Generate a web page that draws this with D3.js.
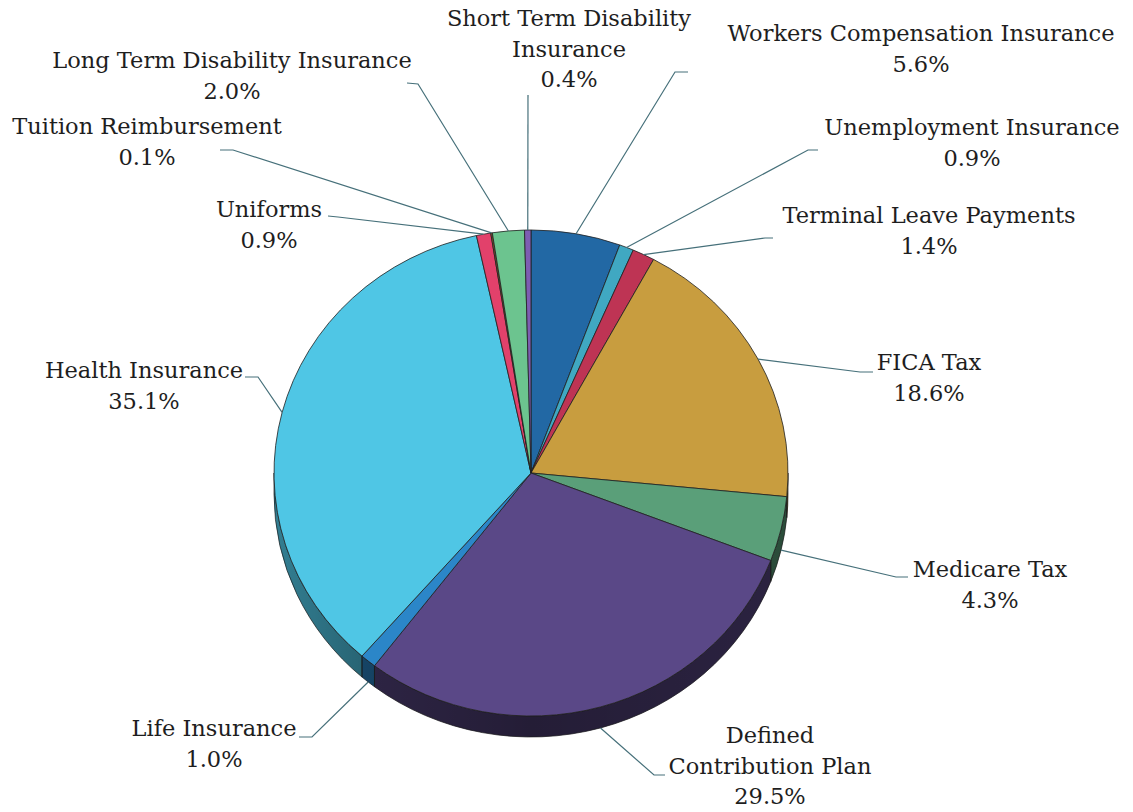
<!DOCTYPE html>
<html>
<head>
<meta charset="utf-8">
<script src="https://cdn.jsdelivr.net/npm/d3@7"></script>
<style>
  html, body { margin: 0; padding: 0; background: #ffffff; }
  svg { display: block; }
  .lbl { font-family: "DejaVu Serif", serif; font-size: 22.5px; fill: #1e1e1e; }
</style>
</head>
<body>
<svg id="chart" width="1133" height="812"></svg>
<script>
// Employer benefit cost shares (percent of total)
const categories = [
  "Workers Compensation Insurance",
  "Unemployment Insurance",
  "Terminal Leave Payments",
  "FICA Tax",
  "Medicare Tax",
  "Defined\nContribution Plan",
  "Life Insurance",
  "Health Insurance",
  "Uniforms",
  "Tuition Reimbursement",
  "Long Term Disability Insurance",
  "Short Term Disability\nInsurance"
];
const shares = [5.6, 0.9, 1.4, 18.6, 4.3, 29.5, 1.0, 35.1, 0.9, 0.1, 2.0, 0.4];
const sliceColors = [
  "#2268a4", "#40a8c2", "#be3454", "#c89d3f", "#5a9f79", "#5a4887",
  "#2b86c8", "#4fc6e5", "#e2416b", "#8a5a2a", "#6cc48f", "#7d5db2"
];

// Label placement: centre of the text block, first line centre, and the
// bend / end points of each leader line.
const labelLayout = [
  { x: 921, y: 33,  bend: [675, 72],  end: [688, 72] },
  { x: 972, y: 127, bend: [808, 150], end: [818, 150] },
  { x: 929, y: 215, bend: [765, 238], end: [773, 238] },
  { x: 929, y: 362, bend: [860, 372], end: [873, 372] },
  { x: 990, y: 569, bend: [896, 577], end: [908, 577] },
  { x: 770, y: 735, bend: [654, 775], end: [665, 775] },
  { x: 214, y: 728, bend: [312, 737], end: [299, 737] },
  { x: 144, y: 370, bend: [258, 377], end: [245, 377] },
  { x: 269, y: 209, bend: [338, 217], end: [328, 216] },
  { x: 147, y: 126, bend: [233, 150], end: [220, 150] },
  { x: 232, y: 60,  bend: [418, 84],  end: [407, 83] },
  { x: 569, y: 18,  bend: [528, 95],  end: [528, 95] }
];

const lineGap = 30.5;
const cx = 531, cy = 473, rx = 257, ry = 243, depth = 21;

const svg = d3.select("#chart");
const defs = svg.append("defs");

// Shading across the visible rim of the pie
const shade = defs.append("linearGradient")
  .attr("id", "rimShade")
  .attr("gradientUnits", "userSpaceOnUse")
  .attr("x1", cx - rx).attr("x2", cx + rx).attr("y1", 0).attr("y2", 0);
[[0, 0.36], [0.18, 0.5], [0.5, 0.6], [1, 0.52]].forEach(([o, a]) =>
  shade.append("stop").attr("offset", o).attr("stop-color", "#000").attr("stop-opacity", a));

const pie = d3.pie().sort(null).value(d => d);
const arcs = pie(shares);

// point on the top ellipse for an angle measured clockwise from 12 o'clock
const pt = (a, dy = 0) => [cx + rx * Math.sin(a), cy - ry * Math.cos(a) + dy];

// Rim (side wall) of each slice on the front half
function rimPath(a0, a1) {
  const lo = Math.max(a0, Math.PI / 2), hi = Math.min(a1, 3 * Math.PI / 2);
  if (hi <= lo) return null;
  const p0 = pt(lo), p1 = pt(hi), q1 = pt(hi, depth), q0 = pt(lo, depth);
  const large = hi - lo > Math.PI ? 1 : 0;
  return `M${p0}A${rx},${ry} 0 ${large} 1 ${p1}L${q1}A${rx},${ry} 0 ${large} 0 ${q0}Z`;
}

const rim = svg.append("g");
arcs.forEach((d, i) => {
  const p = rimPath(d.startAngle, d.endAngle);
  if (!p) return;
  rim.append("path").attr("d", p).attr("fill", sliceColors[i]);
});
const band = rimPath(Math.PI / 2, 3 * Math.PI / 2);
rim.append("path").attr("d", band).attr("fill", "url(#rimShade)");
arcs.forEach((d, i) => {
  const p = rimPath(d.startAngle, d.endAngle);
  if (!p) return;
  rim.append("path").attr("d", p).attr("fill", "none")
    .attr("stroke", "#1a1a1a").attr("stroke-width", 0.7);
});

// Top face: circular arcs squashed into the ellipse
const arc = d3.arc().innerRadius(0).outerRadius(rx);
svg.append("g")
  .attr("transform", `translate(${cx},${cy}) scale(1,${ry / rx})`)
  .selectAll("path")
  .data(arcs)
  .join("path")
  .attr("d", arc)
  .attr("fill", (d, i) => sliceColors[i])
  .attr("stroke", "#1f1f1f")
  .attr("stroke-width", 0.8)
  .attr("vector-effect", "non-scaling-stroke")
  .attr("stroke-linejoin", "round");

// Leader lines
const leaders = svg.append("g")
  .attr("fill", "none")
  .attr("stroke", "#46707a")
  .attr("stroke-width", 1.2);
arcs.forEach((d, i) => {
  const mid = (d.startAngle + d.endAngle) / 2;
  const front = Math.cos(mid) < 0;
  const s = pt(mid, front ? depth : 0);
  const L = labelLayout[i];
  leaders.append("path").attr("d", d3.line()([s, L.bend, L.end]));
});

// Labels: category name lines followed by the share
const fmt = d3.format(".1f");
const labels = svg.append("g");
categories.forEach((name, i) => {
  const L = labelLayout[i];
  const lines = name.split("\n").concat([fmt(shares[i]) + "%"]);
  const t = labels.append("text").attr("class", "lbl")
    .attr("text-anchor", "middle");
  lines.forEach((ln, k) => {
    t.append("tspan").attr("x", L.x).attr("y", L.y + k * lineGap)
      .attr("dominant-baseline", "central").text(ln);
  });
});
</script>
</body>
</html>
